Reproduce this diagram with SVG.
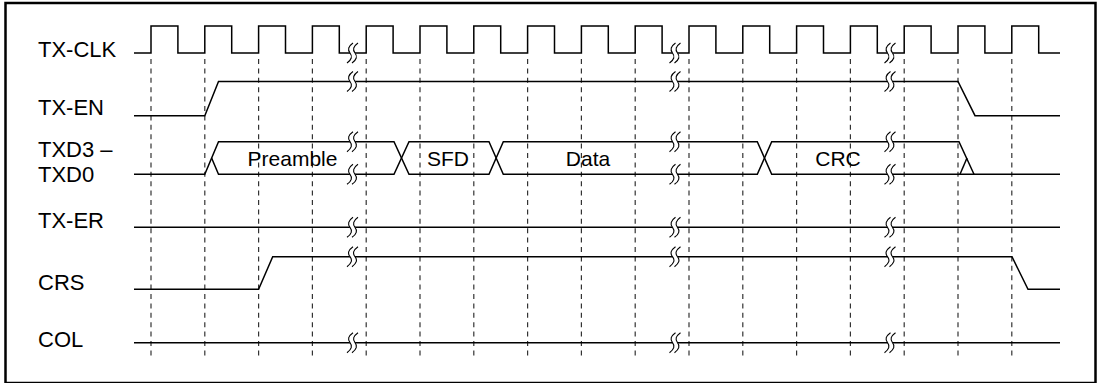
<svg xmlns="http://www.w3.org/2000/svg" xmlns:xlink="http://www.w3.org/1999/xlink" width="1099" height="383" viewBox="0 0 1099 383">
<style>
.sig{fill:none;stroke:#000;stroke-width:1.5;stroke-linejoin:miter}
.grid line{stroke:#333;stroke-width:1.2;stroke-dasharray:5 4.4}
.lbl{font-family:"Liberation Sans",Arial,sans-serif;font-size:22px;fill:#000}
.mid{text-anchor:middle;font-size:21px}
.bw{fill:none;stroke:#fff;stroke-width:4.5}
.bk{fill:none;stroke:#000;stroke-width:1.1}
</style>
<defs>
<g id="brk">
<path class="bw" d="M3,-10 Q-4,-5 0,0 Q4,5 -3,10"/>
<path class="bk" d="M0.5,-10 Q-6.5,-5 -2.5,0 Q1.5,5 -5.5,10"/>
<path class="bk" d="M5.5,-10 Q-1.5,-5 2.5,0 Q6.5,5 -0.5,10"/>
</g>
</defs>
<rect x="5.5" y="3" width="1090" height="380" fill="#fff" stroke="#000" stroke-width="2.5"/>
<g id="connectors" class="grid">
<line x1="151" y1="59" x2="151" y2="357"/>
<line x1="204.8" y1="59" x2="204.8" y2="357"/>
<line x1="258.6" y1="59" x2="258.6" y2="357"/>
<line x1="312.4" y1="59" x2="312.4" y2="357"/>
<line x1="366.2" y1="59" x2="366.2" y2="357"/>
<line x1="420" y1="59" x2="420" y2="357"/>
<line x1="473.8" y1="59" x2="473.8" y2="357"/>
<line x1="527.6" y1="59" x2="527.6" y2="357"/>
<line x1="581.4" y1="59" x2="581.4" y2="357"/>
<line x1="635.2" y1="59" x2="635.2" y2="357"/>
<line x1="689" y1="59" x2="689" y2="357"/>
<line x1="742.8" y1="59" x2="742.8" y2="357"/>
<line x1="796.6" y1="59" x2="796.6" y2="357"/>
<line x1="850.4" y1="59" x2="850.4" y2="357"/>
<line x1="904.2" y1="59" x2="904.2" y2="357"/>
<line x1="958" y1="59" x2="958" y2="357"/>
<line x1="1011.8" y1="59" x2="1011.8" y2="357"/>
</g>
<g id="tx-clk">
<text class="lbl" x="38" y="56.5">TX-CLK</text>
<path class="sig" d="M134,53 H151 V26 H177.9 V53 H204.8 V26 H231.7 V53 H258.6 V26 H285.5 V53 H312.4 V26 H339.3 V53 H366.2 V26 H393.1 V53 H420 V26 H446.9 V53 H473.8 V26 H500.7 V53 H527.6 V26 H554.5 V53 H581.4 V26 H608.3 V53 H635.2 V26 H662.1 V53 H689 V26 H715.9 V53 H742.8 V26 H769.7 V53 H796.6 V26 H823.5 V53 H850.4 V26 H877.3 V53 H904.2 V26 H931.1 V53 H958 V26 H984.9 V53 H1011.8 V26 H1038.7 V53 H1060"/>
<use xlink:href="#brk" x="352.5" y="53"/>
<use xlink:href="#brk" x="675" y="53"/>
<use xlink:href="#brk" x="890" y="53"/>
</g>
<g id="tx-en">
<text class="lbl" x="38" y="115">TX-EN</text>
<path class="sig" d="M134,115.7 H204.8 L218.5,81.5 H958 L975,115.7 H1060"/>
<use xlink:href="#brk" x="352.5" y="81.5"/>
<use xlink:href="#brk" x="675" y="81.5"/>
<use xlink:href="#brk" x="890" y="81.5"/>
</g>
<g id="txd">
<text class="lbl" x="38" y="157">TXD3 –</text>
<text class="lbl" x="38" y="181.5">TXD0</text>
<path class="sig" d="M134,174.3 H204.8 L218.5,141.7 H394 L409,174.3 H489 L503.3,141.7 H757.3 L771.7,174.3 H1060"/>
<path class="sig" d="M211.6,158 L218.5,174.3 H394 L409,141.7 H489 L503.3,174.3 H757.3 L771.7,141.7 H959 L974,174.3"/>
<path class="sig" d="M960,174.3 L967,158"/>
<text class="lbl mid" x="292.5" y="165.7">Preamble</text>
<text class="lbl mid" x="448" y="165.7">SFD</text>
<text class="lbl mid" x="588" y="165.7">Data</text>
<text class="lbl mid" x="838" y="165.7">CRC</text>
<use xlink:href="#brk" x="352.5" y="141.7"/>
<use xlink:href="#brk" x="675" y="141.7"/>
<use xlink:href="#brk" x="890" y="141.7"/>
<use xlink:href="#brk" x="352.5" y="174.3"/>
<use xlink:href="#brk" x="675" y="174.3"/>
<use xlink:href="#brk" x="890" y="174.3"/>
</g>
<g id="tx-er">
<text class="lbl" x="38" y="228">TX-ER</text>
<path class="sig" d="M134,227.3 H1060"/>
<use xlink:href="#brk" x="352.5" y="227.3"/>
<use xlink:href="#brk" x="675" y="227.3"/>
<use xlink:href="#brk" x="890" y="227.3"/>
</g>
<g id="crs">
<text class="lbl" x="38" y="290">CRS</text>
<path class="sig" d="M134,289.3 H258.6 L272.7,256.7 H1012 L1028,289.3 H1060"/>
<use xlink:href="#brk" x="352.5" y="256.7"/>
<use xlink:href="#brk" x="675" y="256.7"/>
<use xlink:href="#brk" x="890" y="256.7"/>
</g>
<g id="col">
<text class="lbl" x="38" y="347">COL</text>
<path class="sig" d="M134,342.7 H1060"/>
<use xlink:href="#brk" x="352.5" y="342.7"/>
<use xlink:href="#brk" x="675" y="342.7"/>
<use xlink:href="#brk" x="890" y="342.7"/>
</g>
</svg>
